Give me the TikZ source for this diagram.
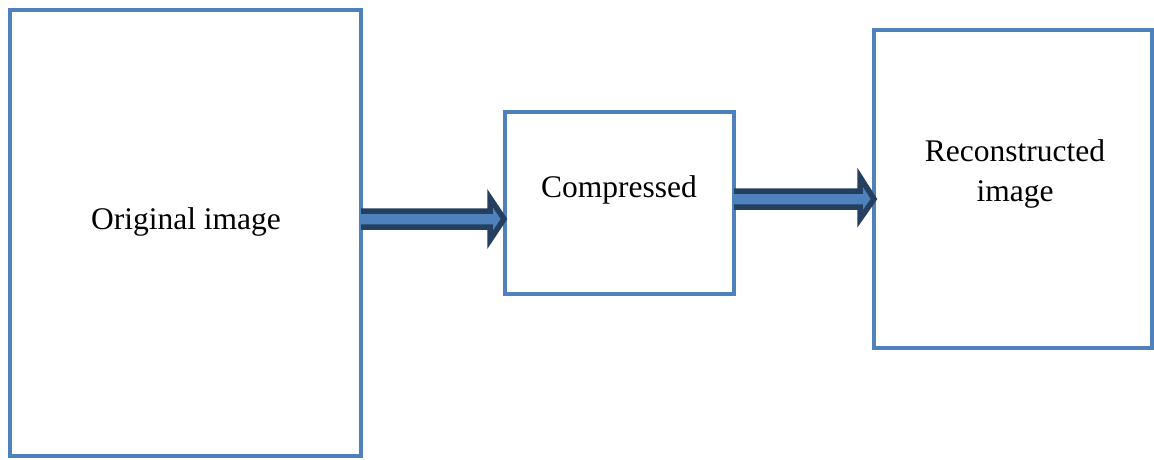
\documentclass[tikz,border=0pt]{standalone}
\usepackage{fontspec}
\setmainfont{Liberation Serif}
\usetikzlibrary{calc}
\definecolor{boxblue}{HTML}{4F81BD}
\definecolor{navy}{HTML}{243F60}
\begin{document}
\begin{tikzpicture}[x=1pt,y=-1pt,
  panel/.style={draw=boxblue,line width=4pt,fill=none},
  fatarrow/.style={draw=navy,fill=boxblue,line width=5.5pt,line join=miter},
  lbl/.style={font=\fontsize{31.5}{40}\selectfont,align=center,inner sep=0pt}]
\useasboundingbox (0,0) rectangle (1154,459);
% boxes
\draw[panel] (9.5,10) rectangle (361,456);
\coordinate (origE) at (361,219);
\draw[panel] (505,111.5) rectangle (734,294);
\coordinate (compW) at (504,219);
\coordinate (compE) at (734,199);
\draw[panel] (874,30) rectangle (1151.5,348);
\coordinate (recW) at (874,199);
% labels
\node[lbl] (t1) at (186,222) {Original image};
\node[lbl] (t2) at (619,190) {Compressed};
\node[lbl] (t3) at (1015,174) {Reconstructed\\image};
% arrows
\draw[fatarrow] ($(origE)+(0,-8)$) -- ($(compW)+(-14,-8)$) -- ($(compW)+(-14,-21)$)
  -- (compW) -- ($(compW)+(-14,21)$) -- ($(compW)+(-14,8)$) -- ($(origE)+(0,8)$);
\draw[fatarrow] ($(compE)+(0,-8)$) -- ($(recW)+(-14,-8)$) -- ($(recW)+(-14,-22)$)
  -- (recW) -- ($(recW)+(-14,20)$) -- ($(recW)+(-14,8)$) -- ($(compE)+(0,8)$);
\end{tikzpicture}
\end{document}
